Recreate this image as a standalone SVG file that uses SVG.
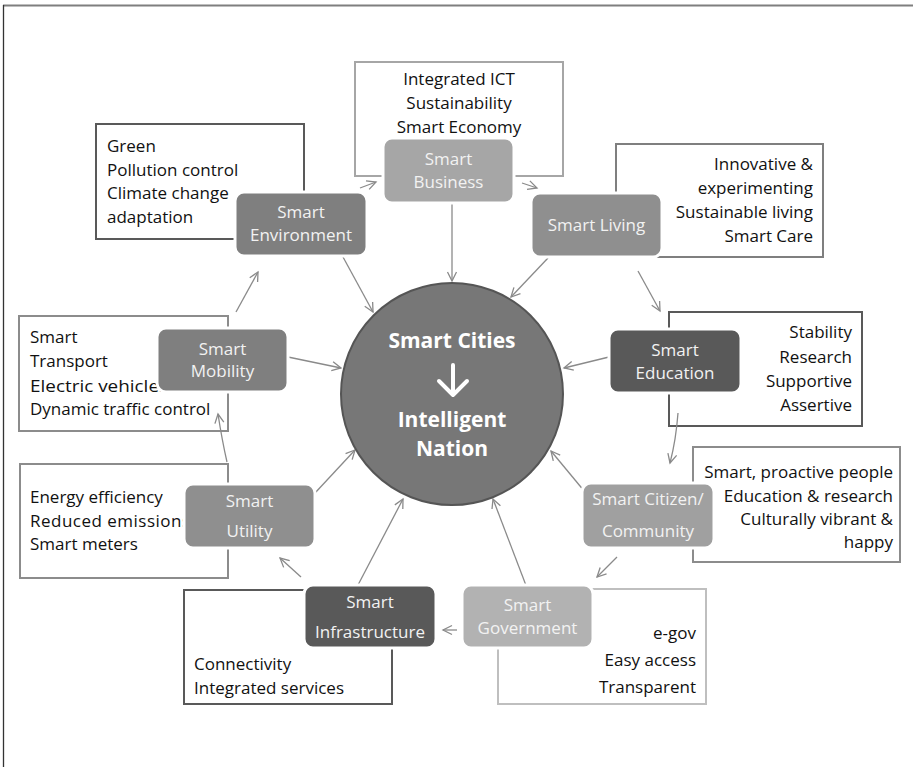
<svg xmlns="http://www.w3.org/2000/svg" width="913" height="767" viewBox="0 0 913 767">
<defs>
<style>
.box{fill:#fff;stroke-width:2}
.node{stroke:#fff;stroke-width:3}
.bt{font-family:"Open Sans","Noto Sans","Liberation Sans",sans-serif;font-size:17px;fill:#111}
.nt{font-family:"Open Sans","Noto Sans","Liberation Sans",sans-serif;font-size:17px;fill:#f2f2f2;text-anchor:middle}
.ct{font-family:"Open Sans","Noto Sans","Liberation Sans",sans-serif;font-size:21px;font-weight:bold;fill:#fff;text-anchor:middle}
.con{fill:none;stroke:#8a8a8a;stroke-width:1.3;marker-end:url(#a)}
</style>
<marker id="a" markerUnits="userSpaceOnUse" markerWidth="12" markerHeight="12" refX="10" refY="6" orient="auto">
<path d="M1,1.5 L10,6 L1,10.5" fill="none" stroke="#8a8a8a" stroke-width="1.3"/>
</marker>
</defs>
<rect width="913" height="767" fill="#fff"/>
<line x1="3" y1="5.5" x2="913" y2="5.5" stroke="#7f7f7f" stroke-width="2"/>
<line x1="3.5" y1="5" x2="3.5" y2="767" stroke="#333" stroke-width="1.3"/>

<g id="environment-box">
<rect class="box" x="96" y="124" width="208" height="115" stroke="#595959"/>
<text class="bt" x="107" y="152">Green</text>
<text class="bt" x="107" y="175.5">Pollution control</text>
<text class="bt" x="107" y="199">Climate change</text>
<text class="bt" x="107" y="222.5">adaptation</text>
</g>
<g id="business-box">
<rect class="box" x="355" y="62" width="208" height="114" stroke="#a6a6a6"/>
<text class="bt" x="459" y="85" text-anchor="middle">Integrated ICT</text>
<text class="bt" x="459" y="109" text-anchor="middle">Sustainability</text>
<text class="bt" x="459" y="133" text-anchor="middle">Smart Economy</text>
</g>
<g id="living-box">
<rect class="box" x="616" y="144" width="207" height="113" stroke="#7f7f7f"/>
<text class="bt" x="813" y="170" text-anchor="end">Innovative &amp;</text>
<text class="bt" x="813" y="194" text-anchor="end">experimenting</text>
<text class="bt" x="813" y="218" text-anchor="end">Sustainable living</text>
<text class="bt" x="813" y="242" text-anchor="end">Smart Care</text>
</g>
<g id="education-box">
<rect class="box" x="669" y="312" width="193" height="114" stroke="#595959"/>
<text class="bt" x="852" y="338" text-anchor="end">Stability</text>
<text class="bt" x="852" y="363" text-anchor="end">Research</text>
<text class="bt" x="852" y="387" text-anchor="end">Supportive</text>
<text class="bt" x="852" y="411" text-anchor="end">Assertive</text>
</g>
<g id="citizen-box">
<rect class="box" x="693" y="447" width="207" height="115" stroke="#8c8c8c"/>
<text class="bt" x="893" y="478" text-anchor="end" font-size="16.5">Smart, proactive people</text>
<text class="bt" x="893" y="502" text-anchor="end" font-size="16.5">Education &amp; research</text>
<text class="bt" x="893" y="525" text-anchor="end" font-size="16.5">Culturally vibrant &amp;</text>
<text class="bt" x="893" y="548" text-anchor="end" font-size="16.5">happy</text>
</g>
<g id="government-box">
<rect class="box" x="498" y="589" width="208" height="115" stroke="#bfbfbf"/>
<text class="bt" x="696" y="639" text-anchor="end" font-size="19">e-gov</text>
<text class="bt" x="696" y="666" text-anchor="end" font-size="19">Easy access</text>
<text class="bt" x="696" y="693" text-anchor="end" font-size="19">Transparent</text>
</g>
<g id="infrastructure-box">
<rect class="box" x="184" y="590" width="208" height="114" stroke="#595959"/>
<text class="bt" x="194" y="670">Connectivity</text>
<text class="bt" x="194" y="694">Integrated services</text>
</g>
<g id="utility-box">
<rect class="box" x="20" y="464" width="208" height="114" stroke="#8c8c8c"/>
<text class="bt" x="30" y="503">Energy efficiency</text>
<text class="bt" x="30" y="527" textLength="160" lengthAdjust="spacing">Reduced emissions</text>
<text class="bt" x="30" y="550">Smart meters</text>
</g>
<g id="mobility-box">
<rect class="box" x="19" y="316" width="209" height="115" stroke="#8c8c8c"/>
<text class="bt" x="30" y="343">Smart</text>
<text class="bt" x="30" y="367">Transport</text>
<text class="bt" x="30" y="392" textLength="138" lengthAdjust="spacingAndGlyphs">Electric vehicles</text>
<text class="bt" x="30" y="415">Dynamic traffic control</text>
</g>

<g id="connectors">
<path class="con" d="M452,204 L452,281"/>
<path class="con" d="M548,258 L511,297"/>
<path class="con" d="M609,357 L564,368"/>
<path class="con" d="M585,492 L551,451"/>
<path class="con" d="M527,588 L493,499"/>
<path class="con" d="M358,585 L403,499"/>
<path class="con" d="M315,493 L355,450"/>
<path class="con" d="M288,357 L341,368"/>
<path class="con" d="M343,257 L373,312"/>
<path class="con" d="M360,188 L376,182"/>
<path class="con" d="M522,183 L537,188"/>
<path class="con" d="M638,271 L660,311"/>
<path class="con" d="M678,413 Q676,440 670,463"/>
<path class="con" d="M617,557 L597,577"/>
<path class="con" d="M457,630 L443,630"/>
<path class="con" d="M301,577 L280,558"/>
<path class="con" d="M227,462 Q222,440 218,414"/>
<path class="con" d="M236,312 L258,272"/>
</g>

<g id="center">
<circle cx="452" cy="394" r="111" fill="#777" stroke="#555" stroke-width="2"/>
<text class="ct" x="452" y="348">Smart Cities</text>
<path d="M453,365 L453,395 M439,381 L453,395 L467,381" fill="none" stroke="#fff" stroke-width="4" stroke-linecap="round" stroke-linejoin="round"/>
<text class="ct" x="452" y="427">Intelligent</text>
<text class="ct" x="452" y="456">Nation</text>
</g>

<g id="smart-environment">
<rect class="node" x="235" y="192" width="132" height="64" rx="9" fill="#7f7f7f"/>
<text class="nt" x="301" y="218">Smart</text>
<text class="nt" x="301" y="241">Environment</text>
</g>
<g id="smart-business">
<rect class="node" x="383" y="138" width="131" height="65" rx="9" fill="#a6a6a6"/>
<text class="nt" x="448.5" y="165">Smart</text>
<text class="nt" x="448.5" y="188">Business</text>
</g>
<g id="smart-living">
<rect class="node" x="531" y="193" width="131" height="64" rx="9" fill="#8f8f8f"/>
<text class="nt" x="596.5" y="231">Smart Living</text>
</g>
<g id="smart-education">
<rect class="node" x="609" y="329" width="132" height="64" rx="9" fill="#595959"/>
<text class="nt" x="675" y="356" font-size="16">Smart</text>
<text class="nt" x="675" y="379" font-size="15">Education</text>
</g>
<g id="smart-citizen">
<rect class="node" x="582" y="483" width="132" height="65" rx="9" fill="#a0a0a0"/>
<text class="nt" x="648" y="505">Smart Citizen/</text>
<text class="nt" x="648" y="537">Community</text>
</g>
<g id="smart-government">
<rect class="node" x="462" y="585" width="131" height="63" rx="9" fill="#b2b2b2"/>
<text class="nt" x="527.5" y="611">Smart</text>
<text class="nt" x="527.5" y="634">Government</text>
</g>
<g id="smart-infrastructure">
<rect class="node" x="304" y="585" width="132" height="63" rx="9" fill="#595959"/>
<text class="nt" x="370" y="608">Smart</text>
<text class="nt" x="370" y="638">Infrastructure</text>
</g>
<g id="smart-utility">
<rect class="node" x="184" y="484" width="131" height="64" rx="9" fill="#8f8f8f"/>
<text class="nt" x="249.5" y="507">Smart</text>
<text class="nt" x="249.5" y="537">Utility</text>
</g>
<g id="smart-mobility">
<rect class="node" x="157" y="328" width="131" height="64" rx="9" fill="#7f7f7f"/>
<text class="nt" x="222.5" y="355">Smart</text>
<text class="nt" x="222.5" y="377">Mobility</text>
</g>
</svg>
